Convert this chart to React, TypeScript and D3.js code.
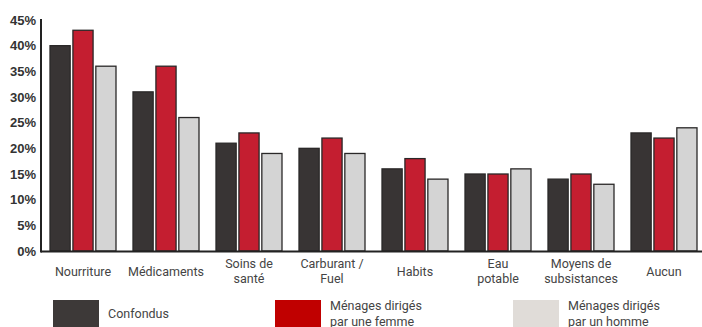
import React from "react";
import * as d3 from "d3";

const categories = [
  ["Nourriture"],
  ["Médicaments"],
  ["Soins de", "santé"],
  ["Carburant /", "Fuel"],
  ["Habits"],
  ["Eau", "potable"],
  ["Moyens de", "subsistances"],
  ["Aucun"],
];
const seriesNames = [["Confondus"], ["Ménages dirigés", "par une femme"], ["Ménages dirigés", "par un homme"]];
const confondus = [40, 31, 21, 20, 16, 15, 14, 23];
const femme = [43, 36, 23, 22, 18, 15, 15, 22];
const homme = [36, 26, 19, 19, 14, 16, 13, 24];
const yTicks = [0, 5, 10, 15, 20, 25, 30, 35, 40, 45];

const barColors = ["#383434", "#c41e30", "#d4d4d4"];
const legendColors = ["#3d3938", "#c00000", "#e0dcd8"];

export default function App() {
  const W = 702, H = 327;
  const x0 = 41, x1 = 705;
  const y = d3.scaleLinear().domain([0, 45]).range([251, 20]);
  const xb = d3.scaleBand<number>().domain(d3.range(categories.length)).range([x0, x1]).paddingInner(0).paddingOuter(0);
  const series = [confondus, femme, homme];
  const inner = d3.scaleBand<number>().domain([0, 1, 2]).range([9, 75]).paddingInner(0.12);
  const legendX = [53, 275, 513];

  return (
    <svg width={W} height={H} style={{ position: "absolute", left: 0, top: 0 }} fontFamily="'Liberation Sans', Arial, sans-serif">
      {yTicks.map((t) => (
        <text key={t} x={36} y={y(t)} dy="0.36em" textAnchor="end" fontSize={13} fontWeight="bold" fill="#333">
          {t}%
        </text>
      ))}
      {categories.map((c, i) =>
        series.map((s, k) => (
          <rect
            key={`${i}-${k}`}
            x={xb(i)! + inner(k)!}
            y={y(s[i])}
            width={inner.bandwidth()}
            height={y(0) - y(s[i])}
            fill={barColors[k]}
            stroke="#2a2828"
            strokeWidth={1.3}
          />
        ))
      )}
      <line x1={x0} x2={x1} y1={y(0) + 0.5} y2={y(0) + 0.5} stroke="#222" strokeWidth={2} />
      <line x1={x0} x2={x0} y1={19} y2={y(0) + 1.5} stroke="#222" strokeWidth={2} />
      {categories.map((c, i) => {
        const cx = xb(i)! + 42;
        const startY = c.length === 1 ? 276 : 268;
        return (
          <text key={i} textAnchor="middle" fontSize={12.5} fill="#444" fontFamily="Roboto, 'Liberation Sans', sans-serif">
            {c.map((l, j) => (
              <tspan key={j} x={cx} y={startY + j * 15}>{l}</tspan>
            ))}
          </text>
        );
      })}
      {seriesNames.map((n, k) => (
        <g key={k}>
          <rect x={legendX[k]} y={300} width={46} height={30} fill={legendColors[k]} />
          <text fontSize={12.5} fill="#444" fontFamily="Roboto, 'Liberation Sans', sans-serif">
            {n.map((l, j) => (
              <tspan key={j} x={legendX[k] + 55} y={n.length === 1 ? 318 : 310 + j * 16}>{l}</tspan>
            ))}
          </text>
        </g>
      ))}
    </svg>
  );
}
